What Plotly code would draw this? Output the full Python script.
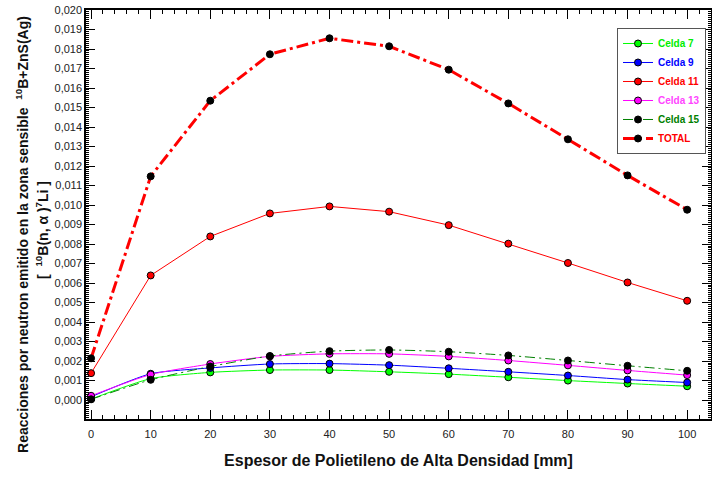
import plotly.graph_objects as go

# ---- data ----
espesor = [0, 10, 20, 30, 40, 50, 60, 70, 80, 90, 100]
celda7 = [0.00005, 0.00110, 0.00142, 0.00154, 0.00154, 0.00145, 0.00133, 0.00117, 0.00100, 0.00085, 0.00071]
celda9 = [0.00017, 0.00135, 0.00165, 0.00185, 0.00187, 0.00179, 0.00163, 0.00145, 0.00126, 0.00105, 0.00090]
celda11 = [0.00138, 0.00639, 0.00839, 0.00957, 0.00993, 0.00966, 0.00897, 0.00802, 0.00703, 0.00603, 0.00509]
celda13 = [0.00022, 0.00131, 0.00185, 0.00224, 0.00237, 0.00237, 0.00224, 0.00203, 0.00178, 0.00152, 0.00128]
celda15 = [0.00004, 0.00104, 0.00172, 0.00226, 0.00251, 0.00257, 0.00248, 0.00229, 0.00203, 0.00176, 0.00150]
total = [0.00214, 0.01147, 0.01535, 0.01773, 0.01855, 0.01814, 0.01694, 0.01521, 0.01337, 0.01152, 0.00976]

FONT = "Liberation Sans, Arial, sans-serif"

def name(txt, col):
    return f'<span style="color:{col}"><b>{txt}</b></span>'

series = [
    ("Celda 7", celda7, "#00ff00", "#00ff00", "solid", 1, "spline"),
    ("Celda 9", celda9, "#0000ff", "#0000ff", "solid", 1, "spline"),
    ("Celda 11", celda11, "#ff0000", "#ff0000", "solid", 1, "linear"),
    ("Celda 13", celda13, "#ff00ff", "#ff00ff", "solid", 1, "spline"),
    ("Celda 15", celda15, "#008000", "#000000", "10px,4px,2px,4px", 1, "spline"),
    ("TOTAL", total, "#ff0000", "#000000", "12px,4px,3px,4px", 3, "linear"),
]
label_cols = {"Celda 7": "#00ee00", "Celda 9": "#0000ff", "Celda 11": "#ff0000",
              "Celda 13": "#ff44ff", "Celda 15": "#008000", "TOTAL": "#ff0000"}

fig = go.Figure()
for nm, vals, lc, mc, dash, w, shape in series:
    fig.add_trace(go.Scatter(
        x=espesor, y=vals, mode="lines+markers",
        name=name(nm, label_cols[nm]),
        line=dict(color=lc, width=w, dash=dash, shape=shape, smoothing=0.6),
        marker=dict(color=mc, size=7, line=dict(color="black", width=1)),
    ))

fig.update_layout(
    width=712, height=477,
    margin=dict(l=86, r=1, t=10, b=58, autoexpand=False),
    paper_bgcolor="white", plot_bgcolor="white",
    separators=",.",
    font=dict(family=FONT, size=11, color="#222222"),
    showlegend=True,
    legend=dict(
        x=0.992, xanchor="right", y=0.956, yanchor="top",
        bgcolor="white", bordercolor="#555555", borderwidth=1,
        font=dict(family=FONT, size=10),
        tracegroupgap=0, itemwidth=30,
    ),
    xaxis=dict(
        range=[-0.85, 104], tickmode="array", automargin=False,
        tickvals=[0, 10, 20, 30, 40, 50, 60, 70, 80, 90, 100],
        ticks="inside", ticklen=9, tickwidth=1, tickcolor="black",
        ticklabelstandoff=4,
        minor=dict(dtick=2, ticks="inside", ticklen=4, tickcolor="black"),
        showgrid=False, zeroline=False,
        showline=True, linecolor="black", linewidth=1.5, mirror="ticks",
        tickfont=dict(family=FONT, size=11, color="#222222"),
        title=dict(text="<b>Espesor de Polietileno de Alta Densidad [mm]</b>",
                   font=dict(family=FONT, size=16, color="#111111"), standoff=16),
    ),
    yaxis=dict(
        range=[-0.00097, 0.020], dtick=0.001, tick0=0, tickformat=".3f", automargin=False,
        ticks="inside", ticklen=9, tickwidth=1, tickcolor="black",
        minor=dict(dtick=0.0001, ticks="inside", ticklen=3, tickcolor="black"),
        showgrid=False, zeroline=False,
        showline=True, linecolor="black", linewidth=1.5, mirror="ticks",
        tickfont=dict(family=FONT, size=11, color="#222222"),
    ),
    annotations=[
        dict(text="<b>Reacciones por neutron emitido en la zona sensible  <sup>10</sup>B+ZnS(Ag)</b>",
             xref="paper", yref="paper", x=-0.1024, y=0.45, textangle=-90,
             showarrow=False, xanchor="center", yanchor="middle",
             font=dict(family=FONT, size=14, color="#111111")),
        dict(text="<b>[  <sup>10</sup>B(n, α )<sup>7</sup>Li ]</b>",
             xref="paper", yref="paper", x=-0.0704, y=0.462, textangle=-90,
             showarrow=False, xanchor="center", yanchor="middle",
             font=dict(family=FONT, size=14, color="#111111")),
    ],
)

fig.write_html("out.html", config={"displayModeBar": False},
               post_script="document.body.style.margin='0';document.body.style.overflow='hidden';")
